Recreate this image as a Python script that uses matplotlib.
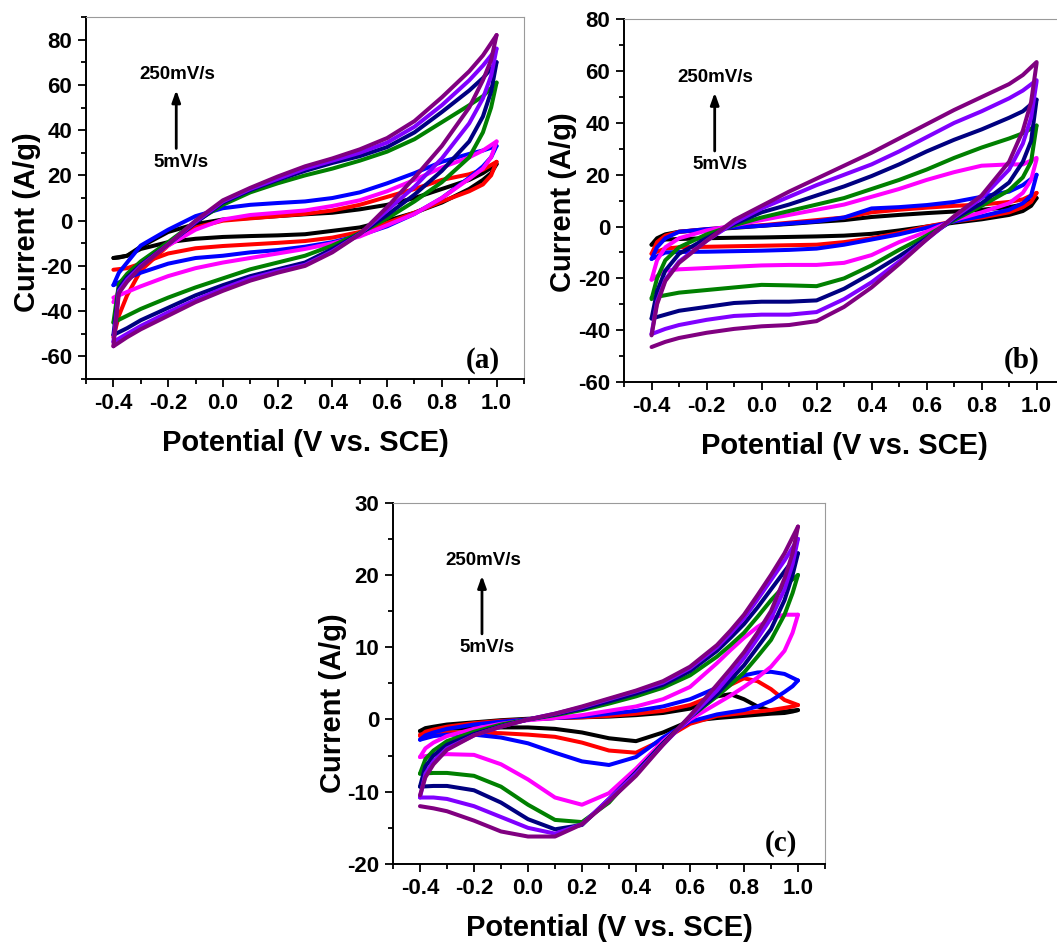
import matplotlib
matplotlib.use('Agg')
import matplotlib.pyplot as plt
from matplotlib.ticker import MultipleLocator

plt.rcParams['font.family'] = ['Liberation Sans', 'DejaVu Sans']
plt.rcParams['font.weight'] = 'bold'
plt.rcParams['axes.unicode_minus'] = False

# colours for the scan rates 5 -> 250 mV/s
colors = ['#000000', '#ff0000', '#0000ff', '#ff00ff', '#008000', '#000080', '#8000ff', '#800080']

# ---------------- panel (a) ----------------
va_up = [-0.4, -0.38, -0.35, -0.3, -0.2, -0.1, 0.0, 0.1, 0.2, 0.3, 0.4, 0.5, 0.6, 0.7, 0.8, 0.9, 0.95, 1.0]
va_dn = [1.0, 0.98, 0.95, 0.9, 0.8, 0.7, 0.6, 0.5, 0.4, 0.3, 0.2, 0.1, 0.0, -0.1, -0.2, -0.3, -0.35, -0.4]

a_black_up = [-16.5, -16.3, -15.5, -11.5, -5, -1.5, 0.5, 1.2, 2, 2.8, 3.5, 5, 7, 10, 14, 18, 21, 25]
a_red_up = [-51.5, -42, -33, -22, -11, -3, 0, 1, 2, 3, 4.5, 7, 10.5, 14, 18, 20.5, 22.5, 26]
a_blue_up = [-28.5, -23, -18.5, -11, -4, 2, 5.5, 7, 7.8, 8.5, 10, 12.5, 16.5, 21, 26, 29.5, 31, 33]
a_magenta_up = [-36, -31, -26, -19, -11, -4, 0.5, 2.5, 3.5, 4.5, 6.5, 9, 13, 18, 23.5, 28, 31, 35]
a_green_up = [-45, -28, -23.5, -18, -9.5, -0.5, 7, 12.5, 16.5, 20, 23, 26.5, 30.5, 36, 43.5, 51, 55, 61]
a_navy_up = [-50.5, -30, -25, -19.5, -10.5, -1, 8, 13.5, 18, 22, 25.5, 28.5, 32.5, 39, 48, 57.5, 63, 70]
a_violet_up = [-53.5, -31, -26, -20, -10.5, -0.5, 8.5, 14, 18.5, 23, 26.5, 30, 34.5, 41.5, 51, 62, 68.5, 76]
a_purple_up = [-55.5, -32, -27, -20.5, -10.5, 0, 9, 14.5, 19.5, 24, 27.5, 31.5, 36.5, 44, 54.5, 66, 73, 82]

a_black_dn = [25, 21, 18, 14, 8, 3.5, 0, -3, -4.5, -6, -6.5, -6.8, -7.2, -8, -9.5, -12.5, -15.5, -16.5]
a_red_dn = [26, 20, 16, 13, 8.5, 3.5, -1, -5, -7.5, -9, -9.8, -10.5, -11.2, -12.2, -14.5, -19, -21, -21.7]
a_blue_dn = [33, 28, 24, 19, 10, 3, -2.5, -6.5, -9.5, -11.5, -13, -14, -15.5, -16.5, -19, -23, -25.5, -28.5]
a_magenta_dn = [35, 28, 23, 18.5, 10, 3, -2, -7, -10, -12.5, -14.5, -16.5, -18.5, -21, -24.5, -29, -31.5, -34]
a_green_dn = [61, 50, 39, 28, 17, 8.5, 1, -5.5, -11, -15.5, -18.5, -21.5, -25.5, -29.5, -34, -39, -42, -45]
a_navy_dn = [70, 57, 46, 35, 22, 11.5, 2.5, -5.8, -12.5, -18.5, -21.5, -24.5, -28.5, -33, -38.5, -44, -47.5, -50.5]
a_violet_dn = [76, 64, 54, 43, 27.5, 15, 4.5, -5.9, -13.5, -19.5, -22.3, -25.5, -30, -35, -40.5, -46.5, -50, -53.5]
a_purple_dn = [82, 71, 62, 50, 33, 19, 6, -6, -14, -20, -23, -26.5, -31, -36, -42, -48, -51.5, -55.5]

# ---------------- panel (b) ----------------
vb_up = va_up
vb_dn = va_dn

b_black_up = [-7, -4.5, -3, -2, -1.2, -0.5, 0.3, 1, 1.8, 2.5, 3.7, 4.5, 5.2, 5.8, 6.5, 7.5, 8.5, 11]
b_red_up = [-10.5, -6, -3.5, -2, -1, -0.2, 0.5, 1.5, 2.5, 3.5, 5.5, 6.5, 7.3, 8, 8.5, 9.5, 10.5, 13]
b_blue_up = [-12.5, -8, -4.5, -2, -1, -0.3, 0.3, 1.2, 2, 3.5, 7, 7.5, 8.3, 9.5, 11.5, 13.5, 16, 20]
b_magenta_up = [-20.5, -13, -8, -4.5, -1.5, 0.5, 2.5, 4.5, 6.5, 8.5, 11.5, 14.5, 18, 21, 23.5, 24, 24, 26.5]
b_green_up = [-28, -20, -13, -8, -3, 0.5, 3.5, 6, 8.5, 11, 14.5, 18, 22, 26.5, 30.5, 34, 36, 39]
b_navy_up = [-35.5, -25, -17, -10.5, -4.5, 1, 5.5, 8.5, 12, 15.5, 19.5, 24, 29, 33.5, 37.5, 42, 44.5, 49]
b_violet_up = [-41.5, -29, -20.5, -13.5, -5.5, 1.5, 7, 11.5, 16, 20, 24, 29, 34.5, 40, 44.5, 49.5, 52.5, 56.5]
b_purple_up = [-42, -30, -21, -14, -5.5, 2.5, 8, 13.5, 18.5, 23.5, 28.5, 34, 39.5, 45, 50, 55, 58.5, 63.5]

b_black_dn = [11, 8, 6, 4.5, 2.8, 1.5, 0, -1.5, -2.8, -3.5, -3.8, -4, -4.2, -4.3, -4.5, -4.8, -5, -7]
b_red_dn = [13, 9.5, 7.5, 5.5, 3.5, 2, 0, -2.5, -4.5, -6, -7, -7.2, -7.4, -7.6, -7.8, -8, -8.5, -10.5]
b_blue_dn = [20, 12, 9, 6.5, 4, 2, -0.5, -3, -5, -7, -8.5, -9, -9.3, -9.5, -9.7, -9.8, -10, -12.5]
b_magenta_dn = [26, 18, 13, 9, 5.5, 2.5, -2, -6, -11, -14, -14.8, -14.8, -15, -15.5, -16, -16.5, -17, -20.5]
b_green_dn = [39, 25, 19, 14, 8, 2.5, -3.5, -9, -15, -20, -23, -22.7, -22.5, -23.5, -24.5, -25.5, -26.5, -27.5]
b_navy_dn = [49, 33, 25, 17, 9, 3, -4.5, -11.5, -18, -24, -28.5, -29, -29, -29.5, -31, -32.5, -34, -35.5]
b_violet_dn = [56, 42, 32, 22, 11, 3.5, -5, -13.5, -21.5, -28, -33, -34, -34, -34.5, -36, -38, -39.5, -41.5]
b_purple_dn = [63, 48, 37, 25, 12, 4, -5, -14.5, -23.5, -31, -36.5, -38, -38.5, -39.5, -41, -43, -44.5, -46.5]

# ---------------- panel (c) ----------------
vc_up = [-0.4, -0.38, -0.35, -0.3, -0.2, -0.1, 0.0, 0.1, 0.2, 0.3, 0.4, 0.5, 0.6, 0.7, 0.75, 0.8, 0.85, 0.9, 0.95, 1.0]
vc_dn = [1.0, 0.98, 0.95, 0.9, 0.85, 0.8, 0.75, 0.7, 0.6, 0.5, 0.4, 0.3, 0.2, 0.1, 0.0, -0.1, -0.2, -0.3, -0.35, -0.4]

c_black_up = [-1.6, -1.2, -1, -0.7, -0.4, -0.1, 0.1, 0.2, 0.3, 0.4, 0.6, 0.9, 1.5, 3.2, 3.5, 2.8, 1.8, 1.2, 1.1, 1.3]
c_red_up = [-2.3, -1.7, -1.4, -1, -0.5, -0.2, 0, 0.2, 0.3, 0.5, 0.8, 1.2, 2, 3.5, 4.8, 5.7, 5.3, 4.2, 2.7, 2]
c_blue_up = [-2.8, -2.2, -1.8, -1.3, -0.7, -0.3, 0, 0.2, 0.4, 0.8, 1.2, 1.8, 2.8, 4.4, 5.3, 6.1, 6.5, 6.6, 6.3, 5.4]
c_magenta_up = [-5.2, -4, -3.2, -2.3, -1.3, -0.6, -0.1, 0.2, 0.6, 1.2, 1.8, 2.8, 4.5, 7.8, 9.6, 11.3, 12.8, 14, 14.5, 14.5]
c_green_up = [-7.5, -5.5, -4.3, -3, -1.7, -0.7, 0, 0.6, 1.3, 2.2, 3.2, 4.4, 6.1, 8.7, 10.3, 12, 14.2, 16.5, 18.5, 20]
c_navy_up = [-9.3, -6.5, -5, -3.5, -2, -0.9, 0, 0.7, 1.5, 2.5, 3.6, 4.8, 6.7, 9.5, 11.3, 13.2, 15.5, 18, 20.5, 23]
c_violet_up = [-10.8, -7.5, -5.8, -4, -2.2, -1, 0, 0.8, 1.7, 2.8, 3.9, 5.1, 7.1, 10, 11.9, 14, 16.6, 19.3, 22, 25]
c_purple_up = [-10.5, -8, -6.2, -4.2, -2.2, -1, 0, 0.8, 1.8, 2.9, 4, 5.3, 7.3, 10.3, 12.3, 14.5, 17.2, 20, 23, 26.7]

c_black_dn = [1.3, 1.1, 0.9, 0.8, 0.65, 0.5, 0.35, 0.2, -0.2, -1.8, -3, -2.6, -1.8, -1.3, -1.1, -1.1, -1.2, -1.3, -1.4, -1.6]
c_red_dn = [2, 1.8, 1.6, 1.3, 1.1, 0.9, 0.7, 0.5, -0.6, -2.8, -4.6, -4.3, -3.2, -2.4, -2.1, -1.9, -1.8, -1.8, -1.9, -2.1]
c_blue_dn = [5.4, 4.6, 3.8, 2.6, 1.8, 1.3, 1, 0.7, -0.3, -2.5, -5.2, -6.3, -5.8, -4.6, -3.3, -2.5, -2.1, -2.1, -2.3, -2.8]
c_magenta_dn = [14.5, 12, 9.5, 7.3, 5.8, 4.5, 3.3, 2.2, 0, -3, -6.8, -10.2, -11.8, -10.8, -8.3, -6.2, -4.9, -4.8, -4.9, -5.2]
c_green_dn = [20, 17.5, 14.5, 11, 8.7, 6.5, 4.8, 3.2, 0.3, -3.3, -7.3, -11.5, -14.2, -13.9, -11.8, -9.3, -7.8, -7.4, -7.4, -7.5]
c_navy_dn = [23, 20, 16.5, 12.5, 10, 7.5, 5.5, 3.5, 0.3, -3.3, -7.3, -11, -14.6, -15.2, -13.8, -11.5, -9.8, -9.2, -9.2, -9.3]
c_violet_dn = [25, 21.5, 18, 14, 11.2, 8.5, 6.2, 4, 0.3, -3.5, -7.5, -11, -14.5, -15.8, -15, -13.5, -12, -11, -10.8, -10.8]
c_purple_dn = [26.7, 23, 19.5, 15, 12, 9.3, 7, 4.8, 0.5, -3.5, -7.8, -11.3, -14.5, -16.2, -16.2, -15.5, -14, -12.7, -12.3, -12]

panels = [
    dict(rect=[0.0814, 0.598, 0.4143, 0.384], ylim=(-70, 90), ymaj=20, ymin=10,
         v_up=va_up, v_dn=va_dn,
         ups=[a_black_up, a_red_up, a_blue_up, a_magenta_up, a_green_up, a_navy_up, a_violet_up, a_purple_up],
         dns=[a_black_dn, a_red_dn, a_blue_dn, a_magenta_dn, a_green_dn, a_navy_dn, a_violet_dn, a_purple_dn],
         tag='(a)', tagpos=(0.945, 0.052), ylab=(-0.135, 0.434)),
    dict(rect=[0.5904, 0.5949, 0.4163, 0.3846], ylim=(-60, 80), ymaj=20, ymin=10,
         v_up=vb_up, v_dn=vb_dn,
         ups=[b_black_up, b_red_up, b_blue_up, b_magenta_up, b_green_up, b_navy_up, b_violet_up, b_purple_up],
         dns=[b_black_dn, b_red_dn, b_blue_dn, b_magenta_dn, b_green_dn, b_navy_dn, b_violet_dn, b_purple_dn],
         tag='(b)', tagpos=(0.944, 0.061), ylab=(-0.138, 0.495)),
    dict(rect=[0.3718, 0.0838, 0.4087, 0.3831], ylim=(-20, 30), ymaj=10, ymin=5,
         v_up=vc_up, v_dn=vc_dn,
         ups=[c_black_up, c_red_up, c_blue_up, c_magenta_up, c_green_up, c_navy_up, c_violet_up, c_purple_up],
         dns=[c_black_dn, c_red_dn, c_blue_dn, c_magenta_dn, c_green_dn, c_navy_dn, c_violet_dn, c_purple_dn],
         tag='(c)', tagpos=(0.935, 0.058), ylab=(-0.140, 0.446)),
]

fig = plt.figure(figsize=(10.57, 9.43), dpi=100)

for p in panels:
    ax = fig.add_axes(p['rect'])
    for col, up, dn in zip(colors, p['ups'], p['dns']):
        ax.plot(p['v_up'], up, color=col, lw=2.9, solid_joinstyle='round', solid_capstyle='round')
        ax.plot(p['v_dn'], dn, color=col, lw=2.9, solid_joinstyle='round', solid_capstyle='round')

    ax.set_xlim(-0.5, 1.1)
    ax.set_ylim(*p['ylim'])
    ax.xaxis.set_minor_locator(MultipleLocator(0.1))
    ax.yaxis.set_major_locator(MultipleLocator(p['ymaj']))
    ax.yaxis.set_minor_locator(MultipleLocator(p['ymin']))
    ax.set_xticks([-0.4, -0.2, 0.0, 0.2, 0.4, 0.6, 0.8, 1.0])
    ax.set_xticklabels(['-0.4', '-0.2', '0.0', '0.2', '0.4', '0.6', '0.8', '1.0'])
    ax.tick_params(which='both', direction='out', top=False, right=False, labelsize=16, width=1.3)
    ax.tick_params(which='major', length=6, pad=4)
    ax.tick_params(which='minor', length=3.5)
    for lab in ax.get_xticklabels() + ax.get_yticklabels():
        lab.set_fontweight('bold')
    for s in ['left', 'bottom']:
        ax.spines[s].set_linewidth(1.4)
    for s in ['top', 'right']:
        ax.spines[s].set_linewidth(0.8)
        ax.spines[s].set_color('#9a9a9a')

    ax.set_xlabel('Potential (V vs. SCE)', fontsize=21, fontweight='bold')
    ax.set_ylabel('Current (A/g)', fontsize=21, fontweight='bold')
    ax.xaxis.set_label_coords(0.5, -0.177)
    ax.xaxis.label.set_va('center')
    ax.yaxis.set_label_coords(*p['ylab'])
    ax.yaxis.label.set_va('center')

    # scan-rate arrow
    ax.annotate('', xy=(0.206, 0.798), xytext=(0.206, 0.637), xycoords='axes fraction',
                arrowprops=dict(arrowstyle='-|>,head_length=0.7,head_width=0.25', lw=2,
                                color='black', shrinkA=0, shrinkB=0))
    ax.text(0.208, 0.840, '250mV/s', transform=ax.transAxes, ha='center', va='center',
            fontsize=13.5, fontweight='bold')
    ax.text(0.218, 0.599, '5mV/s', transform=ax.transAxes, ha='center', va='center',
            fontsize=13.5, fontweight='bold')
    ax.text(p['tagpos'][0], p['tagpos'][1], p['tag'], transform=ax.transAxes, ha='right', va='center',
            fontsize=21, fontweight='bold', family=['Liberation Serif', 'DejaVu Serif'])

fig.savefig('out.png', dpi=100)
